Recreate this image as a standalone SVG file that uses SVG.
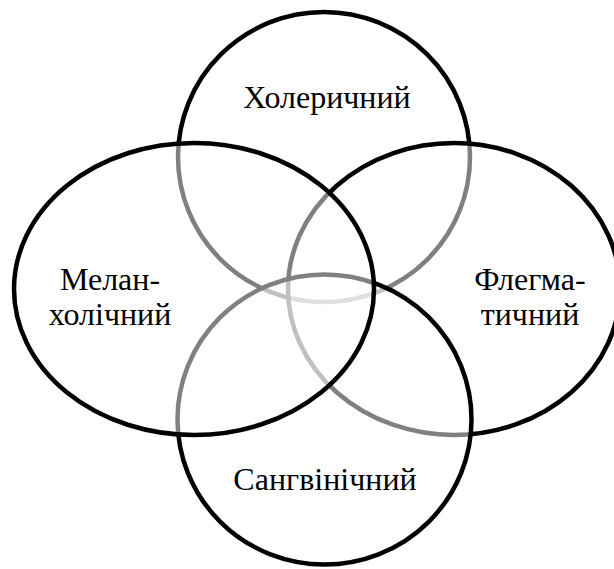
<svg xmlns="http://www.w3.org/2000/svg" width="614" height="569" viewBox="0 0 614 569">
<style>
.shape{fill:#ffffff;fill-opacity:0.5;stroke:#000000;stroke-width:4.5}
.lbl{font-size:32px;fill:#000000;text-anchor:middle}
</style>
<rect x="0" y="0" width="614" height="569" fill="#ffffff"/>
<g id="cholerik">
<ellipse class="shape" cx="324" cy="157" rx="146" ry="145"/>
<text class="lbl" font-family="'Liberation Serif', 'DejaVu Serif', serif" x="327" y="108">Холеричний</text>
</g>
<g id="phlegmatik">
<ellipse class="shape" cx="454" cy="289" rx="166" ry="146"/>
<text class="lbl" font-family="'Liberation Serif', 'DejaVu Serif', serif" x="530" y="290">Флегма-</text>
<text class="lbl" font-family="'Liberation Serif', 'DejaVu Serif', serif" x="530" y="325">тичний</text>
</g>
<g id="sanguinik">
<ellipse class="shape" cx="324.5" cy="419.5" rx="147" ry="145"/>
<text class="lbl" font-family="'Liberation Serif', 'DejaVu Serif', serif" x="325" y="490">Сангвінічний</text>
</g>
<g id="melancholik">
<ellipse class="shape" cx="194" cy="289" rx="180" ry="146"/>
<text class="lbl" font-family="'Liberation Serif', 'DejaVu Serif', serif" x="110" y="290">Мелан-</text>
<text class="lbl" font-family="'Liberation Serif', 'DejaVu Serif', serif" x="110" y="325">холічний</text>
</g>
<g id="connectors"></g>
</svg>
